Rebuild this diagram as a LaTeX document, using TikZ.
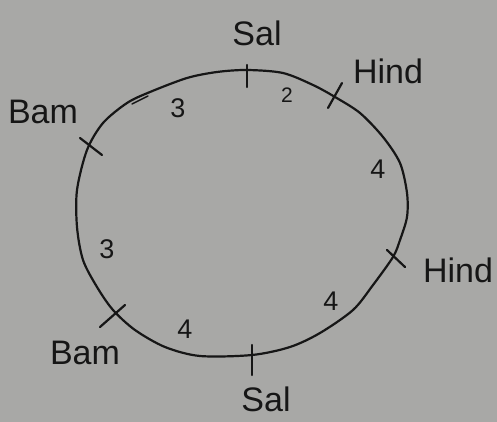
\documentclass[tikz,border=0pt]{standalone}
\usepackage{fontspec}
\setmainfont{Liberation Sans}
\definecolor{paper}{RGB}{168,168,166}
\definecolor{ink}{RGB}{22,22,22}
\begin{document}
\begin{tikzpicture}[x=1pt,y=-1pt,
  ink line/.style={draw=ink,line width=2.2pt,line cap=round,line join=round},
  lbl/.style={text=ink,font=\fontsize{34}{34}\selectfont,inner sep=0pt},
  num/.style={text=ink,font=\fontsize{27}{27}\selectfont,inner sep=0pt}]
\fill[paper] (0,0) rectangle (497,422);
\useasboundingbox (0,0) rectangle (497,422);
% ring
\draw[ink line] plot[smooth cycle,tension=0.5] coordinates{
 (247,70) (283,73) (313,85) (335,97) (360,113) (383,137) (400,163)
 (407,193) (407,217) (400,240) (393,257) (373,285) (353,310) (320,333)
 (290,347) (252,355) (200,356) (165,347) (135,330) (113,310) (97,287)
 (83,260) (77,227) (77,190) (87,150) (103,123) (127,103) (150,92)
 (187,78) (217,72)};
\draw[ink line,line width=1.5pt] (132,104) -- (148,96);
% ticks
\draw[ink line] (247,65) -- (247,87);
\draw[ink line] (328,108) -- (342,83);
\draw[ink line] (387,250) -- (405,267);
\draw[ink line] (252,345) -- (252,375);
\draw[ink line] (100,327) -- (125,305);
\draw[ink line] (80,138) -- (102,155);
% labels
\node[lbl] (sal1) at (257,33) {Sal};
\node[lbl] (hind1) at (388,71) {Hind};
\node[lbl] (bam1) at (43,112) {Bam};
\node[lbl] (hind2) at (458,270) {Hind};
\node[lbl] (bam2) at (85,353) {Bam};
\node[lbl] (sal2) at (266,399) {Sal};
% numbers
\node[num] (n1) at (178,108) {3};
\node[num,font=\fontsize{21}{21}\selectfont] (n2) at (287,95) {2};
\node[num] (n3) at (378,169) {4};
\node[num] (n4) at (107,249) {3};
\node[num] (n5) at (331,301) {4};
\node[num] (n6) at (185,329) {4};
\end{tikzpicture}
\end{document}
